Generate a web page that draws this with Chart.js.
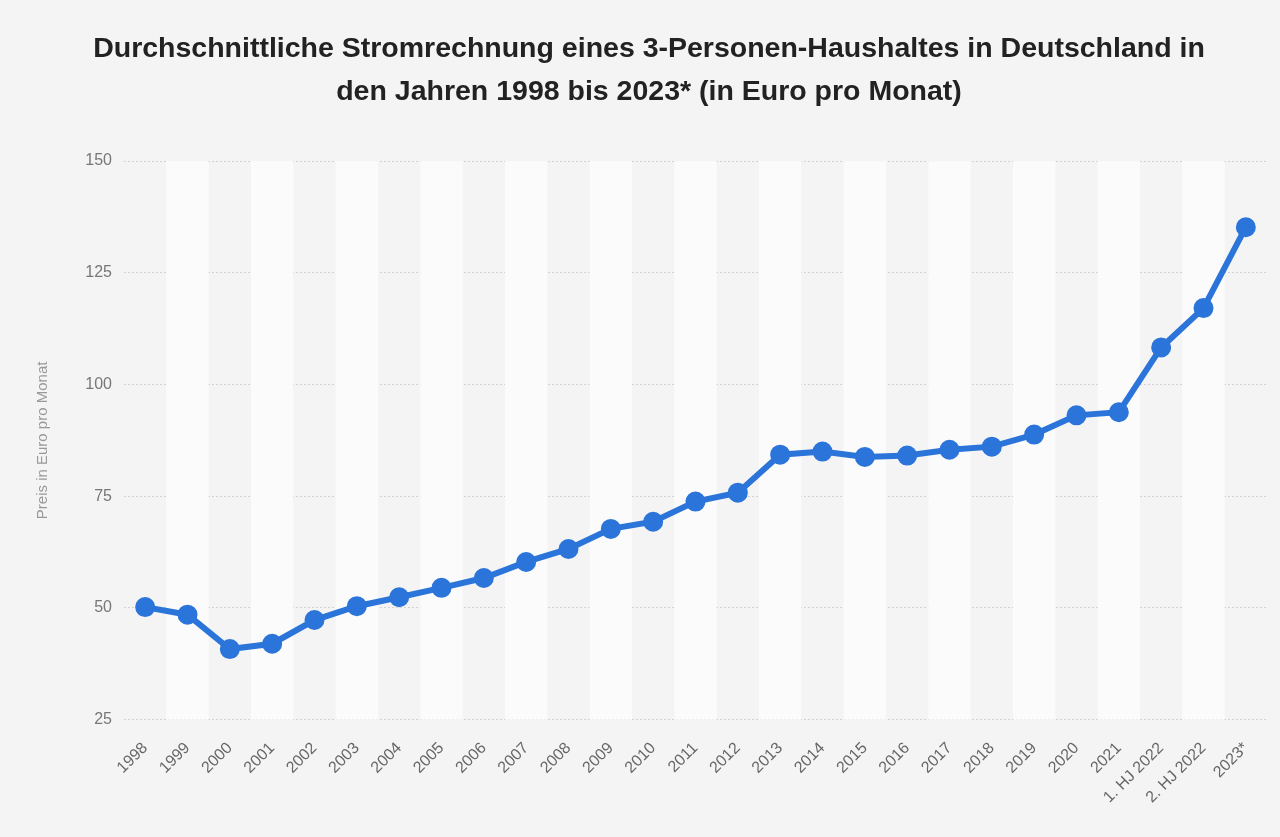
<!DOCTYPE html>
<html lang="de">
<head>
<meta charset="utf-8">
<title>Stromrechnung 3-Personen-Haushalt</title>
<script src="https://cdn.jsdelivr.net/npm/chart.js@4"></script>
<style>
  html, body { margin: 0; padding: 0; background: #f4f4f4; }
  #wrap { width: 1280px; height: 837px; }
</style>
</head>
<body>
<div id="wrap"><canvas id="chart" width="1280" height="837"></canvas></div>
<script>
// Kategorien (x-Achse)
const jahre = ['1998', '1999', '2000', '2001', '2002', '2003', '2004', '2005', '2006',
  '2007', '2008', '2009', '2010', '2011', '2012', '2013', '2014', '2015', '2016',
  '2017', '2018', '2019', '2020', '2021', '1. HJ 2022', '2. HJ 2022', '2023*'];

// Euro pro Monat
const preise = [50.2, 48.5, 40.8, 42.0, 47.3, 50.4, 52.4, 54.5, 56.7,
  60.3, 63.2, 67.7, 69.3, 73.8, 75.8, 84.3, 85.0, 83.8, 84.1,
  85.4, 86.1, 88.8, 93.1, 93.8, 108.3, 117.1, 135.2];

// Tick-Beschriftungen der y-Achse
const yTicks = [25, 50, 75, 100, 125, 150];

const titelZeilen = [
  'Durchschnittliche Stromrechnung eines 3-Personen-Haushaltes in Deutschland in',
  'den Jahren 1998 bis 2023* (in Euro pro Monat)'
];

const schrift = '"Liberation Sans", Arial, Helvetica, sans-serif';

// helle Streifen hinter jeder zweiten Kategorie
const streifenPlugin = {
  id: 'streifen',
  beforeDatasetsDraw(chart) {
    const { ctx, chartArea, scales } = chart;
    const x = scales.x;
    const breite = x.getPixelForValue(1) - x.getPixelForValue(0);
    ctx.save();
    ctx.fillStyle = '#fbfbfb';
    jahre.forEach((j, i) => {
      if (i % 2 === 1) {
        const mitte = x.getPixelForValue(i);
        ctx.fillRect(mitte - breite / 2, chartArea.top, breite, chartArea.bottom - chartArea.top);
      }
    });
    ctx.restore();
  }
};

// Hintergrund der ganzen Fläche
const hintergrundPlugin = {
  id: 'hintergrund',
  beforeDraw(chart) {
    const ctx = chart.ctx;
    ctx.save();
    ctx.fillStyle = '#f4f4f4';
    ctx.fillRect(0, 0, chart.width, chart.height);
    ctx.restore();
  }
};

new Chart(document.getElementById('chart'), {
  type: 'line',
  data: {
    labels: jahre,
    datasets: [{
      label: 'Preis in Euro pro Monat',
      data: preise,
      borderColor: '#2a74da',
      backgroundColor: '#2a74da',
      borderWidth: 6,
      pointRadius: 7,
      pointHoverRadius: 7,
      tension: 0
    }]
  },
  options: {
    responsive: false,
    animation: false,
    layout: { padding: { left: 30, right: 12, top: 0, bottom: 19 } },
    plugins: {
      legend: { display: false },
      tooltip: { enabled: false },
      title: {
        display: true,
        text: titelZeilen,
        color: '#222',
        font: { family: schrift, size: 28.5, weight: 'bold', lineHeight: 1.51 },
        padding: { top: 28, bottom: 47 }
      }
    },
    scales: {
      x: {
        offset: true,
        grid: { display: false },
        border: { display: false },
        ticks: {
          color: '#666',
          font: { family: schrift, size: 16 },
          maxRotation: 45,
          minRotation: 45,
          autoSkip: false,
          padding: 11
        }
      },
      y: {
        min: 25,
        max: 150,
        afterBuildTicks(axis) {
          axis.ticks = yTicks.map(v => ({ value: v }));
        },
        afterFit(axis) {
          axis.width = 94;
        },
        border: { display: false, dash: [2, 2] },
        grid: { color: '#d2d2d2', lineWidth: 1, drawTicks: false },
        ticks: {
          color: '#777',
          padding: 12,
          font: { family: schrift, size: 16 }
        },
        title: {
          display: true,
          text: 'Preis in Euro pro Monat',
          color: '#999',
          font: { family: schrift, size: 15 },
          padding: { top: 4, bottom: 8 }
        }
      }
    }
  },
  plugins: [hintergrundPlugin, streifenPlugin]
});
</script>
</body>
</html>
